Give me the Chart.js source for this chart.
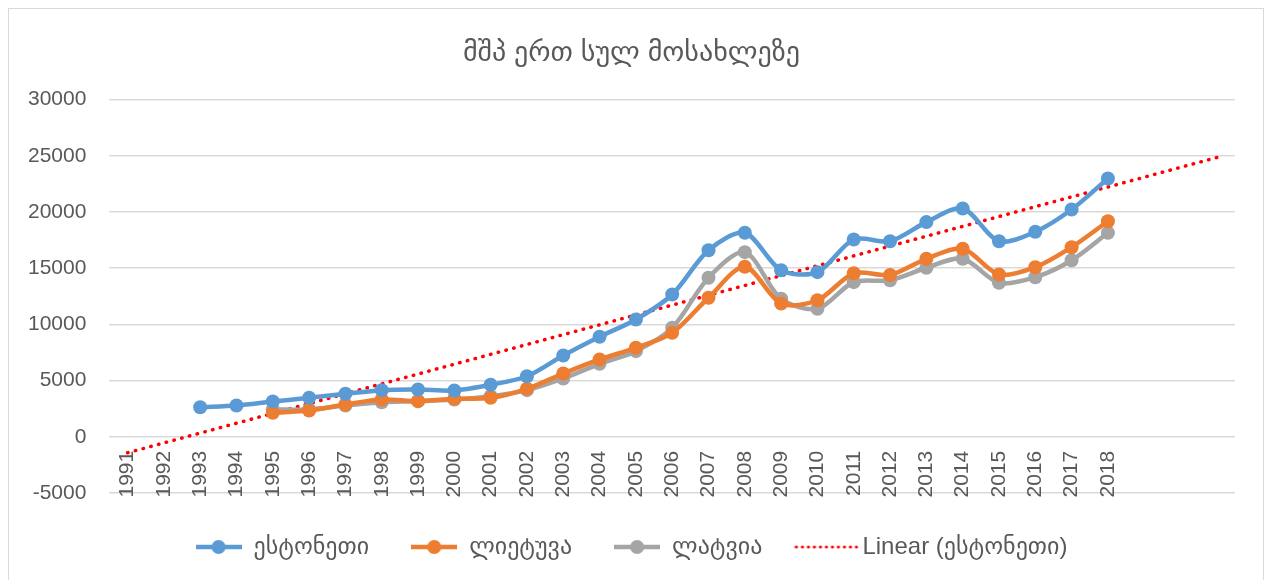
<!DOCTYPE html>
<html>
<head>
<meta charset="utf-8">
<script src="https://cdn.jsdelivr.net/npm/chart.js@4.4.0/dist/chart.umd.min.js"></script>
<style>
  html, body { margin: 0; padding: 0; background: #ffffff; overflow: hidden; }
  #box { position: absolute; left: 8px; top: 8px; width: 1254px; height: 600px; border: 1px solid #d9d9d9; }
  #chart { display: block; }
</style>
</head>
<body>
<div id="box"><canvas id="chart" width="1254" height="572"></canvas></div>
<script>
// წლები (ბოლო სამი ადგილი ტრენდის გაგრძელებისთვის)
const years = ['1991','1992','1993','1994','1995','1996','1997','1998','1999','2000',
  '2001','2002','2003','2004','2005','2006','2007','2008','2009','2010',
  '2011','2012','2013','2014','2015','2016','2017','2018','','',''];

// მშპ ერთ სულ მოსახლეზე
const estonia = [null, null, 2630, 2785, 3140, 3470, 3825, 4150, 4210, 4120,
  4625, 5390, 7230, 8900, 10440, 12660, 16600, 18150, 14820, 14650,
  17550, 17400, 19100, 20310, 17400, 18240, 20220, 22980, null, null, null];
const lithuania = [null, null, null, null, 2135, 2340, 2870, 3320, 3170, 3380,
  3470, 4270, 5630, 6880, 7920, 9250, 12370, 15130, 11860, 12150,
  14550, 14400, 15840, 16730, 14440, 15090, 16870, 19180, null, null, null];
const latvia = [null, null, null, null, 2430, 2430, 2785, 3080, 3170, 3320,
  3610, 4150, 5190, 6490, 7620, 9700, 14150, 16430, 12280, 11390,
  13760, 13930, 15040, 15840, 13700, 14200, 15710, 18150, null, null, null];

// წრფივი ტრენდის ბოლოები (1991 და 2021), ნახატიდან წაკითხული
const trendEstonia = [-1420, null, null, null, null, null, null, null, null, null,
  null, null, null, null, null, null, null, null, null, null,
  null, null, null, null, null, null, null, null, null, null, 24850];

const yTicks = { min: -5000, max: 30000, step: 5000 };

const blue = '#5b9bd5', orange = '#ed7d31', grey = '#a5a5a5', red = '#ff0000';
const textColor = '#595959';
const fontFamily = "'Liberation Sans', 'DejaVu Sans', sans-serif";
const yLabelGap = 23;

// ლეგენდის პატარა ნიშნები
function lineIcon(color) {
  const c = document.createElement('canvas');
  c.width = 46; c.height = 16;
  const g = c.getContext('2d');
  g.strokeStyle = color; g.lineWidth = 4.5;
  g.beginPath(); g.moveTo(0, 8); g.lineTo(46, 8); g.stroke();
  g.fillStyle = color;
  g.beginPath(); g.arc(23, 8, 7, 0, Math.PI * 2); g.fill();
  return c;
}
function dotIcon(color) {
  // უფრო გრძელი, მარცხნივ გადადის ადგილის ხარჯზე
  const c = document.createElement('canvas');
  c.width = 66; c.height = 16;
  const g = c.getContext('2d');
  g.fillStyle = color;
  for (let x = 2; x < 66; x += 6) {
    g.beginPath(); g.arc(x, 8, 1.6, 0, Math.PI * 2); g.fill();
  }
  return c;
}
const icons = [lineIcon(blue), lineIcon(orange), lineIcon(grey), dotIcon(red)];

function series(label, data, color) {
  return {
    label: label,
    data: data,
    borderColor: color,
    backgroundColor: color,
    borderWidth: 4.5,
    pointRadius: 7,
    pointHoverRadius: 7,
    pointBorderWidth: 0,
    pointBackgroundColor: color,
    tension: 0.3,
    fill: false
  };
}

const ctx = document.getElementById('chart').getContext('2d');
const chart = new Chart(ctx, {
  type: 'line',
  data: {
    labels: years,
    datasets: [
      series('ესტონეთი', estonia, blue),
      series('ლიეტუვა', lithuania, orange),
      series('ლატვია', latvia, grey),
      {
        label: 'Linear (ესტონეთი)',
        data: trendEstonia,
        borderColor: red,
        backgroundColor: red,
        borderWidth: 3.5,
        borderDash: [0.5, 7.5],
        borderCapStyle: 'round',
        pointRadius: 0,
        tension: 0,
        spanGaps: true,
        fill: false
      }
    ]
  },
  options: {
    responsive: false,
    animation: false,
    layout: { autoPadding: false, padding: { left: 19, right: 28, top: 0, bottom: 12 } },
    scales: {
      x: {
        type: 'category',
        position: { y: 0 },
        offset: true,
        grid: { display: false },
        border: { display: false },
        ticks: {
          autoSkip: false,
          minRotation: 90,
          maxRotation: 90,
          padding: 6,
          color: textColor,
          font: { family: fontFamily, size: 21 }
        }
      },
      y: {
        min: yTicks.min,
        max: yTicks.max,
        grid: { color: '#d9d9d9', lineWidth: 1.5, drawTicks: false },
        border: { display: false },
        // Chart.js ორმაგ დაშორებას ტოვებს, მარცხენა ნახევარი არ გვჭირდება
        afterFit: function (scale) { scale.width -= yLabelGap; },
        ticks: {
          stepSize: yTicks.step,
          padding: yLabelGap,
          color: textColor,
          font: { family: fontFamily, size: 21 },
          callback: function (v) { return String(v); }
        }
      }
    },
    plugins: {
      title: {
        display: true,
        text: 'მშპ ერთ სულ მოსახლეზე',
        color: textColor,
        font: { family: fontFamily, size: 28, weight: 'normal' },
        padding: { top: 27, bottom: 30 }
      },
      legend: {
        position: 'bottom',
        labels: {
          usePointStyle: true,
          pointStyleWidth: 46,
          padding: 42,
          color: textColor,
          font: { family: fontFamily, size: 24 },
          generateLabels: function (chart) {
            return chart.data.datasets.map(function (ds, i) {
              return {
                text: ds.label,
                pointStyle: icons[i],
                fillStyle: ds.borderColor,
                strokeStyle: ds.borderColor,
                lineWidth: 0,
                fontColor: textColor,
                hidden: false,
                datasetIndex: i
              };
            });
          }
        }
      },
      tooltip: { enabled: false }
    }
  }
});
</script>
</body>
</html>
